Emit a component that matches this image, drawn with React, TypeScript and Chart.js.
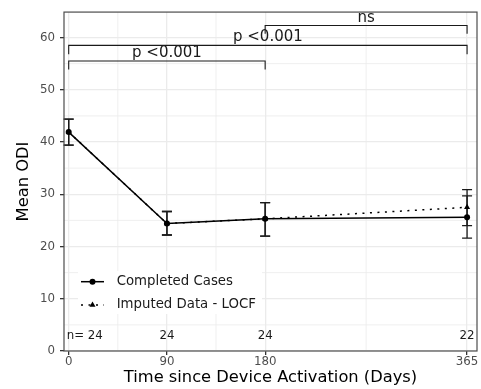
import React, { useEffect, useRef } from 'react';
import { Chart, registerables } from 'chart.js';

Chart.register(...registerables);

// ---- data ----
const days = [0, 90, 180, 365];
const xTickValues = [0, 90, 180, 365];
const yTickValues = [0, 10, 20, 30, 40, 50, 60];
const completedMean = [41.9, 24.4, 25.3, 25.6];
const completedLower = [39.4, 22.2, 22.0, 21.6];
const completedUpper = [44.4, 26.7, 28.4, 29.7];
const imputedMean = [41.9, 24.4, 25.3, 27.5];
const imputedLower = [39.4, 22.2, 22.0, 24.0];
const imputedUpper = [44.4, 26.7, 28.4, 30.9];
const sampleSizes = ['n= 24', '24', '24', '22'];
const sampleLabelY = 2.8;
const bracketFrom = [0, 0, 180];
const bracketTo = [180, 365, 365];
const bracketHeight = [55.5, 58.5, 62.3];
const bracketTip = [53.9, 56.8, 60.7];
const bracketLabels = ['p <0.001', 'p <0.001', 'ns'];
const seriesNames = ['Completed Cases', 'Imputed Data - LOCF'];
const xTitle = 'Time since Device Activation (Days)';
const yTitle = 'Mean ODI';

const FONT = "'DejaVu Sans', sans-serif";
const GRID = '#ebebeb';
const DOTS = [2, 5.5];

function midpoints(vals: number[]) {
  const out: number[] = [];
  for (let i = 0; i < vals.length - 1; i++) out.push((vals[i] + vals[i + 1]) / 2);
  return out;
}

function drawTriangle(ctx: CanvasRenderingContext2D, x: number, y: number, r: number) {
  ctx.beginPath();
  for (let k = 0; k < 3; k++) {
    const a = -Math.PI / 2 + (k * 2 * Math.PI) / 3;
    const px = x + Math.cos(a) * r;
    const py = y + Math.sin(a) * r;
    if (k === 0) ctx.moveTo(px, py);
    else ctx.lineTo(px, py);
  }
  ctx.closePath();
  ctx.fill();
}

const decorPlugin = {
  id: 'decor',
  beforeDatasetsDraw(chart: any) {
    const { ctx, chartArea, scales } = chart;
    const xs = scales.x;
    const ys = scales.y;
    ctx.save();
    // minor grid
    ctx.strokeStyle = GRID;
    ctx.lineWidth = 0.8;
    midpoints(xTickValues).forEach((v) => {
      const px = xs.getPixelForValue(v);
      ctx.beginPath();
      ctx.moveTo(px, chartArea.top);
      ctx.lineTo(px, chartArea.bottom);
      ctx.stroke();
    });
    midpoints(yTickValues).forEach((v) => {
      const py = ys.getPixelForValue(v);
      ctx.beginPath();
      ctx.moveTo(chartArea.left, py);
      ctx.lineTo(chartArea.right, py);
      ctx.stroke();
    });
    // error bars
    const sets = [
      { lo: imputedLower, hi: imputedUpper },
      { lo: completedLower, hi: completedUpper },
    ];
    ctx.strokeStyle = '#1a1a1a';
    ctx.lineWidth = 1.3;
    sets.forEach((s) => {
      days.forEach((d, i) => {
        const px = xs.getPixelForValue(d);
        const p1 = ys.getPixelForValue(s.lo[i]);
        const p2 = ys.getPixelForValue(s.hi[i]);
        ctx.beginPath();
        ctx.moveTo(px, p1);
        ctx.lineTo(px, p2);
        ctx.moveTo(px - 5, p1);
        ctx.lineTo(px + 5, p1);
        ctx.moveTo(px - 5, p2);
        ctx.lineTo(px + 5, p2);
        ctx.stroke();
      });
    });
    ctx.restore();
  },
  afterDatasetsDraw(chart: any) {
    const { ctx, chartArea, scales } = chart;
    const xs = scales.x;
    const ys = scales.y;
    ctx.save();
    // sample sizes
    ctx.fillStyle = '#1a1a1a';
    ctx.font = `11.8px ${FONT}`;
    ctx.textBaseline = 'middle';
    sampleSizes.forEach((t, i) => {
      const px = xs.getPixelForValue(days[i]);
      const py = ys.getPixelForValue(sampleLabelY);
      if (i === 0) {
        ctx.textAlign = 'left';
        ctx.fillText(t, px - 2, py);
      } else {
        ctx.textAlign = 'center';
        ctx.fillText(t, px, py);
      }
    });
    // brackets
    ctx.strokeStyle = '#1a1a1a';
    ctx.lineWidth = 1.1;
    ctx.font = `15px ${FONT}`;
    ctx.textAlign = 'center';
    ctx.textBaseline = 'alphabetic';
    bracketLabels.forEach((lab, i) => {
      const x1 = xs.getPixelForValue(bracketFrom[i]);
      const x2 = xs.getPixelForValue(bracketTo[i]);
      const yb = ys.getPixelForValue(bracketHeight[i]);
      const yt = ys.getPixelForValue(bracketTip[i]);
      ctx.beginPath();
      ctx.moveTo(x1, yt);
      ctx.lineTo(x1, yb);
      ctx.lineTo(x2, yb);
      ctx.lineTo(x2, yt);
      ctx.stroke();
      ctx.fillText(lab, (x1 + x2) / 2, yb - 4);
    });
    // legend
    const lx = chartArea.left + 14;
    const ly = chartArea.bottom - 80;
    ctx.fillStyle = '#ffffff';
    ctx.fillRect(lx, ly, 184, 43);
    const rows = [ly + 10.7, ly + 34];
    const kx1 = lx + 3;
    const kx2 = lx + 26;
    const kc = (kx1 + kx2) / 2;
    ctx.strokeStyle = '#000';
    ctx.fillStyle = '#000';
    ctx.lineWidth = 1.5;
    ctx.beginPath();
    ctx.moveTo(kx1, rows[0]);
    ctx.lineTo(kx2, rows[0]);
    ctx.stroke();
    ctx.beginPath();
    ctx.arc(kc, rows[0], 3, 0, Math.PI * 2);
    ctx.fill();
    ctx.setLineDash(DOTS);
    ctx.beginPath();
    ctx.moveTo(kx1, rows[1]);
    ctx.lineTo(kx2, rows[1]);
    ctx.stroke();
    ctx.setLineDash([]);
    drawTriangle(ctx, kc, rows[1], 3.5);
    ctx.font = `13.3px ${FONT}`;
    ctx.textAlign = 'left';
    ctx.textBaseline = 'middle';
    ctx.fillStyle = '#1a1a1a';
    seriesNames.forEach((n, i) => ctx.fillText(n, lx + 38.7, rows[i]));
    // panel border
    ctx.strokeStyle = '#4d4d4d';
    ctx.lineWidth = 1.2;
    ctx.strokeRect(chartArea.left, chartArea.top, chartArea.right - chartArea.left, chartArea.bottom - chartArea.top);
    ctx.restore();
  },
};

export default function App() {
  const canvasRef = useRef<HTMLCanvasElement | null>(null);

  useEffect(() => {
    document.body.style.margin = '0';
    const canvas = canvasRef.current;
    if (!canvas) return;
    Chart.defaults.font.family = FONT;
    const chart = new Chart(canvas, {
      type: 'line',
      data: {
        datasets: [
          {
            label: seriesNames[0],
            data: days.map((d, i) => ({ x: d, y: completedMean[i] })),
            borderColor: '#000',
            backgroundColor: '#000',
            borderWidth: 1.5,
            pointRadius: 3,
            pointBorderWidth: 0,
            pointStyle: 'circle',
            pointBackgroundColor: '#000',
            tension: 0,
          },
          {
            label: seriesNames[1],
            data: days.map((d, i) => ({ x: d, y: imputedMean[i] })),
            borderColor: '#000',
            backgroundColor: '#000',
            borderWidth: 1.5,
            borderDash: DOTS,
            pointRadius: 3.5,
            pointBorderWidth: 0,
            pointStyle: 'triangle',
            pointBackgroundColor: '#000',
            tension: 0,
          },
        ],
      },
      options: {
        animation: false,
        responsive: false,
        layout: { padding: { top: 9, right: 1, left: 0, bottom: 0 } },
        plugins: { legend: { display: false }, tooltip: { enabled: false } },
        scales: {
          x: {
            type: 'linear',
            min: -4.3,
            max: 374.1,
            afterBuildTicks: (s: any) => {
              s.ticks = xTickValues.map((v) => ({ value: v }));
            },
            afterFit: (s: any) => {
              s.height = 38;
            },
            grid: { color: GRID, lineWidth: 1.3, tickColor: '#333333', tickLength: 4, drawTicks: true },
            border: { display: false },
            ticks: {
              color: '#4d4d4d',
              font: { size: 11.8, family: FONT },
              padding: 0,
              maxRotation: 0,
              autoSkip: false,
              callback: (v: any) => String(v),
            },
            title: {
              display: true,
              text: xTitle,
              color: '#000',
              font: { size: 16.3, family: FONT },
              padding: { top: 0, bottom: 1.2 },
            },
          },
          y: {
            type: 'linear',
            min: 0,
            max: 64.87,
            afterBuildTicks: (s: any) => {
              s.ticks = yTickValues.map((v) => ({ value: v }));
            },
            afterFit: (s: any) => {
              s.width = 64;
            },
            grid: { color: GRID, lineWidth: 1.3, tickColor: '#333333', tickLength: 4, drawTicks: true },
            border: { display: false },
            ticks: {
              color: '#4d4d4d',
              font: { size: 11.8, family: FONT },
              padding: 5,
              autoSkip: false,
              callback: (v: any) => String(v),
            },
            title: {
              display: true,
              text: yTitle,
              color: '#000',
              font: { size: 16.3, family: FONT },
              padding: { top: 13.5, bottom: 0 },
            },
          },
        },
      },
      plugins: [decorPlugin],
    });
    return () => chart.destroy();
  }, []);

  return (
    <div style={{ width: 481, height: 389 }}>
      <canvas ref={canvasRef} width={481} height={389} style={{ display: 'block' }} />
    </div>
  );
}
